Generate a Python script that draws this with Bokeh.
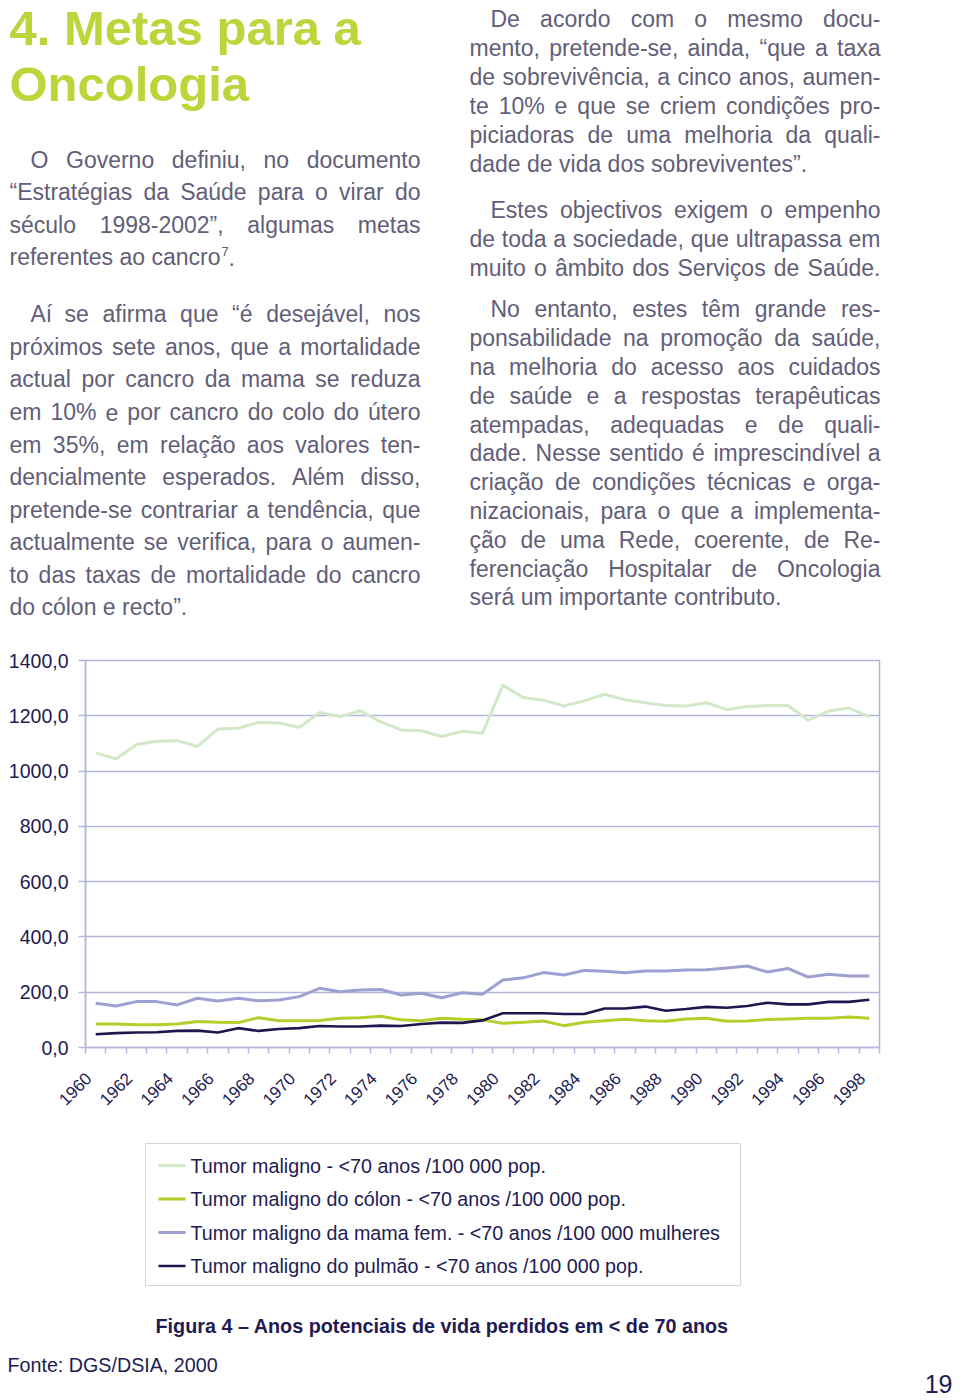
import math
import unicodedata
from bokeh.plotting import figure
from bokeh.models import Range1d, FixedTicker
from bokeh.core.properties import value
from bokeh.embed import file_html
from bokeh.resources import INLINE

# ---------------- data ----------------
YEARS = [1960, 1961, 1962, 1963, 1964, 1965, 1966, 1967, 1968, 1969,
         1970, 1971, 1972, 1973, 1974, 1975, 1976, 1977, 1978, 1979,
         1980, 1981, 1982, 1983, 1984, 1985, 1986, 1987, 1988, 1989,
         1990, 1991, 1992, 1993, 1994, 1995, 1996, 1997, 1998]
LABEL_YEARS = [1960, 1962, 1964, 1966, 1968, 1970, 1972, 1974, 1976, 1978,
               1980, 1982, 1984, 1986, 1988, 1990, 1992, 1994, 1996, 1998]

TOTAL = [1066, 1044, 1096, 1108, 1110, 1089, 1152, 1155, 1176, 1174,
         1158, 1212, 1197, 1218, 1178, 1149, 1146, 1125, 1144, 1137,
         1310, 1266, 1256, 1236, 1254, 1278, 1258, 1247, 1237, 1235,
         1247, 1222, 1234, 1237, 1237, 1184, 1217, 1228, 1196]
COLON = [85, 85, 82, 82, 85, 94, 91, 90, 108, 97,
         97, 98, 106, 108, 113, 100, 97, 106, 102, 100,
         88, 91, 96, 79, 91, 97, 102, 97, 95, 103,
         106, 95, 96, 101, 103, 106, 106, 110, 106]
MAMA = [160, 150, 166, 166, 154, 178, 168, 178, 169, 172,
        184, 214, 202, 208, 210, 190, 196, 180, 198, 193,
        244, 252, 271, 262, 279, 276, 270, 277, 277, 280,
        281, 288, 295, 273, 286, 255, 265, 259, 259]
PULMAO = [48, 52, 54, 55, 60, 61, 54, 70, 60, 67,
          70, 78, 76, 76, 79, 78, 85, 90, 89, 98,
          124, 124, 124, 121, 121, 141, 141, 148, 133, 139,
          147, 144, 150, 162, 156, 156, 165, 165, 173]

SERIES_NAMES = ["Tumor maligno - <70 anos /100 000 pop.",
                "Tumor maligno do cólon - <70 anos /100 000 pop.",
                "Tumor maligno da mama fem. - <70 anos /100 000 mulheres",
                "Tumor maligno do pulmão - <70 anos /100 000 pop."]
SERIES_COLORS = ["#d2e8c9", "#b3cf2c", "#9da0d0", "#1e164f"]
SERIES_WIDTHS = [3, 3, 3, 2.6]

Y_TICKS = [0, 200, 400, 600, 800, 1000, 1200, 1400]
Y_LABELS = ["0,0", "200,0", "400,0", "600,0", "800,0", "1000,0", "1200,0", "1400,0"]

TITLE_LINES = ["4. Metas para a", "Oncologia"]

LEFT_P1 = ["O Governo definiu, no documento",
           "“Estratégias da Saúde para o virar do",
           "século 1998-2002”, algumas metas",
           "referentes ao cancro"]
LEFT_P2 = ["Aí se afirma que “é desejável, nos",
           "próximos sete anos, que a mortalidade",
           "actual por cancro da mama se reduza",
           "em 10% e por cancro do colo do útero",
           "em 35%, em relação aos valores ten-",
           "dencialmente esperados. Além disso,",
           "pretende-se contrariar a tendência, que",
           "actualmente se verifica, para o aumen-",
           "to das taxas de mortalidade do cancro",
           "do cólon e recto”."]
RIGHT_P1 = ["De acordo com o mesmo docu-",
            "mento, pretende-se, ainda, “que a taxa",
            "de sobrevivência, a cinco anos, aumen-",
            "te 10% e que se criem condições pro-",
            "piciadoras de uma melhoria da quali-",
            "dade de vida dos sobreviventes”."]
RIGHT_P2 = ["Estes objectivos exigem o empenho",
            "de toda a sociedade, que ultrapassa em",
            "muito o âmbito dos Serviços de Saúde."]
RIGHT_P3 = ["No entanto, estes têm grande res-",
            "ponsabilidade na promoção da saúde,",
            "na melhoria do acesso aos cuidados",
            "de saúde e a respostas terapêuticas",
            "atempadas, adequadas e de quali-",
            "dade. Nesse sentido é imprescindível a",
            "criação de condições técnicas e orga-",
            "nizacionais, para o que a implementa-",
            "ção de uma Rede, coerente, de Re-",
            "ferenciação Hospitalar de Oncologia",
            "será um importante contributo."]

CAPTION = "Figura 4 – Anos potenciais de vida perdidos em < de 70 anos"
SOURCE = "Fonte: DGS/DSIA, 2000"
PAGE_NO = "19"

# ---------------- styles ----------------
FONT = "Liberation Sans"
TEXT_GRAY = "#625e78"
NAVY = "#221b52"
GREEN_TITLE = "#bcd53a"
LAVENDER = "#b3b6dc"
BASELINE_FIX = 0.34   # renderer draws 'alphabetic' text ~0.34em low

# Arial / Liberation Sans advance widths (1/1000 em)
W = {' ': 278, 'a': 556, 'b': 556, 'c': 500, 'd': 556, 'e': 556, 'f': 278, 'g': 556,
     'h': 556, 'i': 222, 'j': 222, 'k': 500, 'l': 222, 'm': 833, 'n': 556, 'o': 556,
     'p': 556, 'q': 556, 'r': 333, 's': 500, 't': 278, 'u': 556, 'v': 500, 'w': 722,
     'x': 500, 'y': 500, 'z': 500,
     'A': 667, 'B': 667, 'C': 722, 'D': 722, 'E': 667, 'F': 611, 'G': 778, 'H': 722,
     'I': 278, 'J': 500, 'K': 667, 'L': 556, 'M': 833, 'N': 722, 'O': 778, 'P': 667,
     'Q': 778, 'R': 722, 'S': 667, 'T': 611, 'U': 722, 'V': 667, 'W': 944, 'X': 667,
     'Y': 667, 'Z': 611,
     ',': 278, '.': 278, '-': 333, '“': 333, '”': 333, '"': 355, ':': 278, ';': 278,
     '%': 889, '/': 278, '(': 333, ')': 333, '<': 584, '–': 556}


def tw(s, size):
    tot = 0
    for ch in s:
        if ch.isdigit():
            tot += 556
            continue
        base = unicodedata.normalize('NFD', ch)[0]
        tot += W.get(ch, W.get(base, 556))
    return tot * size / 1000.0


def layout_para(lines, left, right, indent, y0, step, size, justify_last=False):
    xs, ys, ts = [], [], []
    n = len(lines)
    for i, line in enumerate(lines):
        start = left + (indent if i == 0 else 0)
        y = y0 + i * step
        words = line.split(' ')
        ws = [tw(w, size) for w in words]
        avail = right - start
        last = (i == n - 1)
        if len(words) > 1 and (not last or justify_last):
            gap = (avail - sum(ws)) / (len(words) - 1)
            x = start
            for w, wd in zip(words, ws):
                xs.append(x); ys.append(y); ts.append(w)
                x += wd + gap
        else:
            xs.append(start); ys.append(y); ts.append(line)
    return xs, ys, ts


def text_fig(ytop, ybot):
    p = figure(width=960, height=ybot - ytop, x_range=Range1d(0, 960), y_range=Range1d(ybot, ytop),
               x_axis_type=None, y_axis_type=None, min_border=0,
               toolbar_location=None, output_backend="svg")
    p.outline_line_color = None
    p.grid.visible = False
    p.background_fill_color = "white"
    p.border_fill_color = "white"
    return p


def add_text(p, xs, ys, ts, size, color, bold=False, align="left"):
    ys = [y - BASELINE_FIX * size for y in ys]
    p.text(x=xs, y=ys, text=ts, text_font=value(FONT), text_font_size=value(f"{size}px"),
           text_color=color, text_align=align, text_baseline="alphabetic",
           text_font_style="bold" if bold else "normal")


# ---------------- top text block (page y 0..640) ----------------
top = text_fig(0, 640)
add_text(top, [9, 9], [44, 100], TITLE_LINES, 49, GREEN_TITLE, bold=True)

BODY = 23
for lines, left, right, y0, step, jl in [
        (LEFT_P1, 9, 420, 167, 32.5, False),
        (LEFT_P2, 9, 420, 321.7, 32.55, False),
        (RIGHT_P1, 469, 880, 26, 29, False),
        (RIGHT_P2, 469, 880, 217.3, 28.8, True),
        (RIGHT_P3, 469, 880, 316.7, 28.8, False)]:
    xs, ys, ts = layout_para(lines, left, right, 21, y0, step, BODY, jl)
    add_text(top, xs, ys, ts, BODY, TEXT_GRAY)

sup_x = 9 + tw(LEFT_P1[-1], BODY) + 1
sup_y = 167 + 3 * 32.5
add_text(top, [sup_x], [sup_y - 9], ["7"], 13, TEXT_GRAY)
add_text(top, [sup_x + 7], [sup_y], ["."], BODY, TEXT_GRAY)

# ---------------- chart (page y 640..1135) ----------------
chart = figure(width=960, height=495, x_range=Range1d(1959.5, 1998.5), y_range=Range1d(0, 1400),
               min_border_left=85, min_border_right=81, min_border_top=20, min_border_bottom=88,
               toolbar_location=None, output_backend="svg")
chart.background_fill_color = "white"
chart.border_fill_color = "white"
chart.outline_line_color = LAVENDER
chart.outline_line_width = 1.5
chart.xgrid.visible = False
chart.ygrid.grid_line_color = LAVENDER
chart.ygrid.grid_line_width = 1.5

chart.yaxis.ticker = FixedTicker(ticks=Y_TICKS)
chart.yaxis.major_label_overrides = {t: lab for t, lab in zip(Y_TICKS, Y_LABELS)}
chart.yaxis.axis_line_color = LAVENDER
chart.yaxis.axis_line_width = 1.5
chart.yaxis.major_tick_line_color = LAVENDER
chart.yaxis.major_tick_line_width = 1.5
chart.yaxis.major_tick_out = 7
chart.yaxis.major_tick_in = 0
chart.yaxis.minor_tick_line_color = None
chart.yaxis.major_label_standoff = 10
chart.yaxis.major_label_text_font = FONT
chart.yaxis.major_label_text_font_size = "19.5px"
chart.yaxis.major_label_text_color = NAVY

# year labels sit a little left of each category centre, as in the original
LABEL_POS = [y - 0.35 for y in LABEL_YEARS]
chart.xaxis.ticker = FixedTicker(ticks=LABEL_POS, minor_ticks=[y - 0.5 for y in YEARS] + [YEARS[-1] + 0.5])
chart.xaxis.major_label_overrides = {pos: str(y) for pos, y in zip(LABEL_POS, LABEL_YEARS)}
chart.xaxis.axis_line_color = LAVENDER
chart.xaxis.axis_line_width = 1.5
chart.xaxis.major_tick_line_color = None
chart.xaxis.major_tick_out = 6
chart.xaxis.major_tick_in = 0
chart.xaxis.minor_tick_line_color = LAVENDER
chart.xaxis.minor_tick_line_width = 1.5
chart.xaxis.minor_tick_out = 6
chart.xaxis.minor_tick_in = 0
chart.xaxis.major_label_orientation = math.pi / 4
chart.xaxis.major_label_standoff = 22
chart.xaxis.major_label_text_font = FONT
chart.xaxis.major_label_text_font_size = "17px"
chart.xaxis.major_label_text_color = NAVY

for vals, col, lw in zip([TOTAL, COLON, MAMA, PULMAO], SERIES_COLORS, SERIES_WIDTHS):
    chart.line(YEARS, vals, line_color=col, line_width=lw, line_join="round")

# ---------------- bottom block: legend & captions (page y 1135..1400) ----------------
bot = text_fig(1135, 1400)
bot.quad(left=[145], right=[740], top=[1143], bottom=[1285], fill_color="white",
         line_color="#d6d6d6", line_width=1)
leg_y = [1165, 1198.5, 1232, 1265.5]
bot.segment(x0=[158] * 4, x1=[185] * 4, y0=leg_y, y1=leg_y,
            line_color=SERIES_COLORS, line_width=SERIES_WIDTHS)
add_text(bot, [190] * 4, [y + 7 for y in leg_y], SERIES_NAMES, 19.7, NAVY)

add_text(bot, [155], [1332], [CAPTION], 19.8, NAVY, bold=True)
add_text(bot, [7], [1371], [SOURCE], 19.7, NAVY)
add_text(bot, [952], [1392], [PAGE_NO], 25, NAVY, align="right")

open("out.html", "w").write(file_html([top, chart, bot], INLINE))
